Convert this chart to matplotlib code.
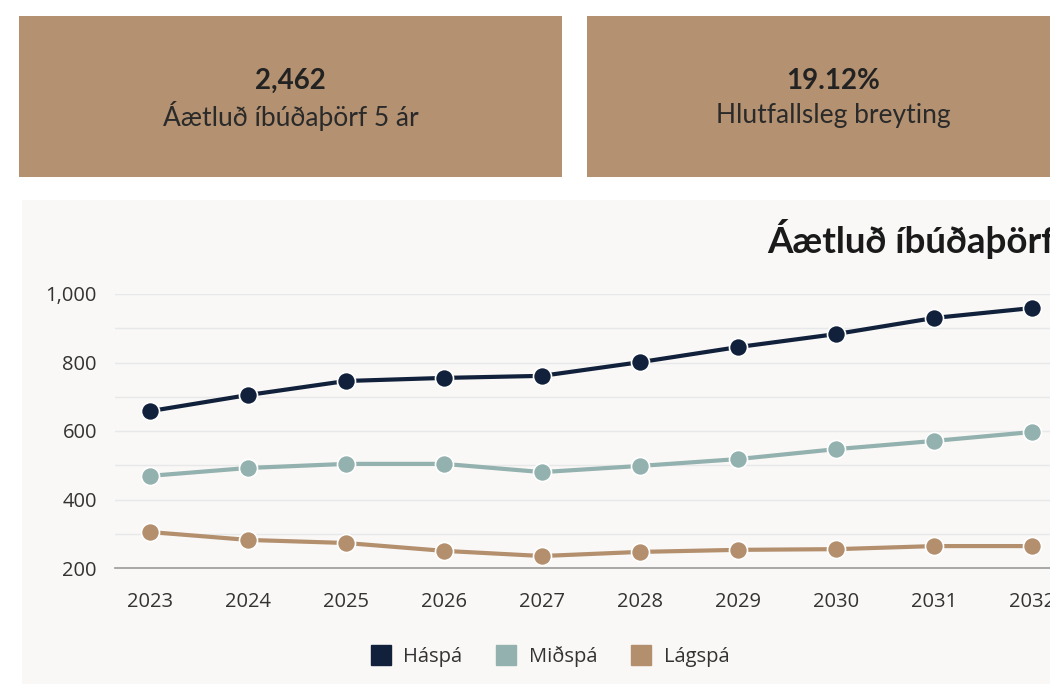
import matplotlib
matplotlib.use("Agg")
import matplotlib.pyplot as plt
from matplotlib.patches import Rectangle
from matplotlib.lines import Line2D
from matplotlib.ticker import FuncFormatter, MultipleLocator

# data
years = [2023, 2024, 2025, 2026, 2027, 2028, 2029, 2030, 2031, 2032]
haspa = [658, 705, 746, 755, 761, 801, 845, 883, 930, 959]
midspa = [469, 492, 504, 504, 480, 498, 518, 547, 571, 597]
lagspa = [305, 282, 273, 250, 235, 247, 253, 255, 264, 264]
series_names = ["Háspá", "Miðspá", "Lágspá"]
colors = ["#12213b", "#93b1ae", "#b38f6e"]

card_values = ["2,462", "19.12%"]
card_labels = ["Áætluð íbúðaþörf 5 ár", "Hlutfallsleg breyting"]
title = "Áætluð íbúðaþörf"

W, H = 1050, 684
fig = plt.figure(figsize=(W / 100, H / 100), dpi=100)
fig.patch.set_facecolor("white")

def px(x0, y0, x1, y1):
    # pixel box (top-left origin) -> figure coords
    return (x0 / W, 1 - y1 / H, (x1 - x0) / W, (y1 - y0) / H)

card_col = "#b39171"
for (x0, x1), val, lab in zip([(19, 562), (587, 1080)], card_values, card_labels):
    l, b, w, h = px(x0, 16, x1, 177)
    fig.patches.append(Rectangle((l, b), w, h, transform=fig.transFigure,
                                 facecolor=card_col, edgecolor="none", zorder=0))
    cx = (x0 + x1) / 2 / W
    fig.text(cx, 1 - 81 / H, val, ha="center", va="center", fontsize=20,
             fontweight="bold", color="#222222", family="Lato")
    fig.text(cx, 1 - 116 / H, lab, ha="center", va="center", fontsize=19,
             color="#2a2a2a", family="Lato")

# chart panel (the reference is cropped on the right, so it runs off the edge)
l, b, w, h = px(22, 200, 1080, 684)
fig.patches.append(Rectangle((l, b), w, h, transform=fig.transFigure,
                             facecolor="#f9f8f6", edgecolor="none", zorder=0))
fig.text(767 / W, 1 - 239 / H, title, ha="left", va="center", fontsize=26.5,
         fontweight="bold", color="#1a1a1a", family="Lato")

ax = fig.add_axes([115 / W, 1 - 568 / H, 985 / W, 274 / H])
ax.set_zorder(2)
ax.set_facecolor("none")
for yrs, vals, c in zip([years] * 3, [haspa, midspa, lagspa], colors):
    ax.plot(yrs, vals, color=c, lw=3, marker="o", ms=13, mfc=c,
            mec="white", mew=1.2, clip_on=False, zorder=3)

ax.set_xlim(2023 - 35 / 98, 2023 + 950 / 98)
ax.set_ylim(200, 1000)
ax.yaxis.set_major_locator(MultipleLocator(200))
ax.yaxis.set_minor_locator(MultipleLocator(100))
ax.yaxis.set_major_formatter(FuncFormatter(lambda v, p: f"{int(v):,}"))
ax.set_xticks(years)
ax.grid(True, axis="y", which="both", color="#e6e8ea", lw=1)
ax.set_axisbelow(True)
for s in ["top", "right", "left"]:
    ax.spines[s].set_visible(False)
ax.spines["bottom"].set_color("#9a9a9a")
ax.spines["bottom"].set_linewidth(1.2)
ax.tick_params(axis="both", which="both", length=0, labelsize=14.5,
               colors="#333333")
ax.tick_params(axis="x", pad=17)
ax.tick_params(axis="y", pad=13)
for t in ax.get_xticklabels() + ax.get_yticklabels():
    t.set_family("Open Sans")

handles = [Line2D([], [], ls="none", marker="s", ms=14, color=c) for c in colors]
leg = fig.legend(handles, series_names, loc="center",
                 bbox_to_anchor=(550 / W, 1 - 657 / H), ncol=3, frameon=False,
                 prop={"family": "Open Sans", "size": 14.5}, handletextpad=0.6,
                 columnspacing=1.7, handlelength=1.0)
for t in leg.get_texts():
    t.set_color("#333333")

fig.savefig("out.png", dpi=100)
